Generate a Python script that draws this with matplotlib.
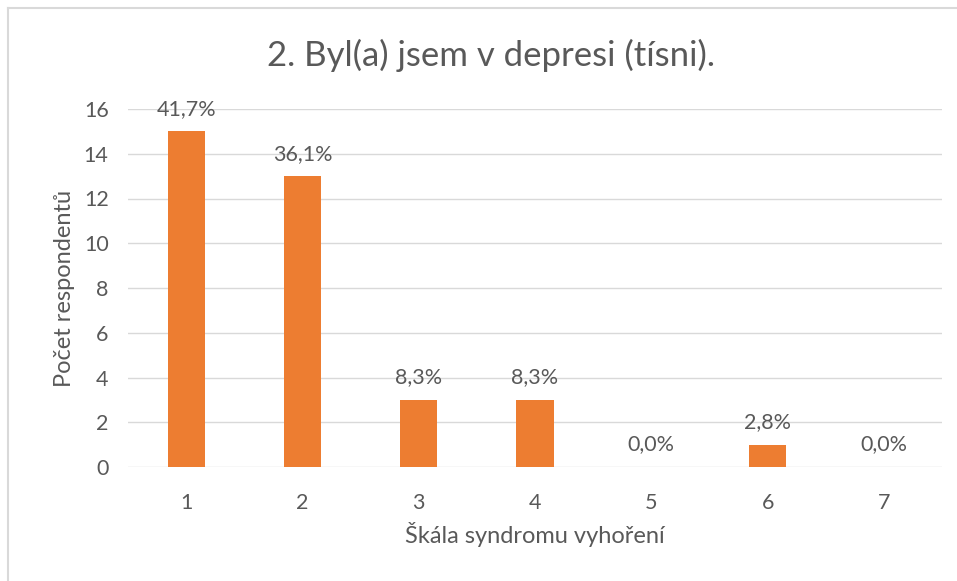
import matplotlib.pyplot as plt
from matplotlib.lines import Line2D

categories = ["1", "2", "3", "4", "5", "6", "7"]
counts = [15, 13, 3, 3, 0, 1, 0]
percent_labels = ["41,7%", "36,1%", "8,3%", "8,3%", "0,0%", "2,8%", "0,0%"]

plt.rcParams['font.family'] = ['Lato', 'DejaVu Sans']
txt = '#595959'

fig = plt.figure(figsize=(9.57, 5.81), dpi=100)
ax = fig.add_axes([128 / 957, 1 - 467 / 581, (942 - 128) / 957, (467 - 109) / 581])

x = range(len(categories))
bars = ax.bar(x, counts, width=0.32, color='#ED7D31', zorder=3)
for xi, c, lab in zip(x, counts, percent_labels):
    ax.annotate(lab, (xi, c), xytext=(0, 9), textcoords='offset points',
                ha='center', va='bottom', fontsize=15.5, color=txt)

ax.set_xlim(-0.5, len(categories) - 0.5)
ax.set_ylim(0, 16)
ax.set_yticks(range(0, 17, 2))
ax.set_xticks(list(x))
ax.set_xticklabels(categories)
ax.grid(axis='y', color='#d9d9d9', linewidth=1, zorder=0)
for s in ax.spines.values():
    s.set_visible(False)
ax.tick_params(length=0, labelsize=15.5, colors=txt)
ax.tick_params(axis='x', pad=19)
ax.tick_params(axis='y', pad=14)

fig.text(491 / 957, 1 - 55 / 581, "2. Byl(a) jsem v depresi (tísni).", fontsize=25,
         color=txt, ha='center', va='center')
ax.set_xlabel("Škála syndromu vyhoření", fontsize=17, color=txt, labelpad=6)
ax.set_ylabel("Počet respondentů", fontsize=17, color=txt, labelpad=6)

# chart frame (left and top edges visible)
fig.add_artist(Line2D([8 / 957, 8 / 957], [0, 1 - 8 / 581], transform=fig.transFigure, color='#d9d9d9', lw=1.5))
fig.add_artist(Line2D([8 / 957, 1], [1 - 8 / 581, 1 - 8 / 581], transform=fig.transFigure, color='#d9d9d9', lw=1.5))

fig.savefig("out.png", dpi=100)
